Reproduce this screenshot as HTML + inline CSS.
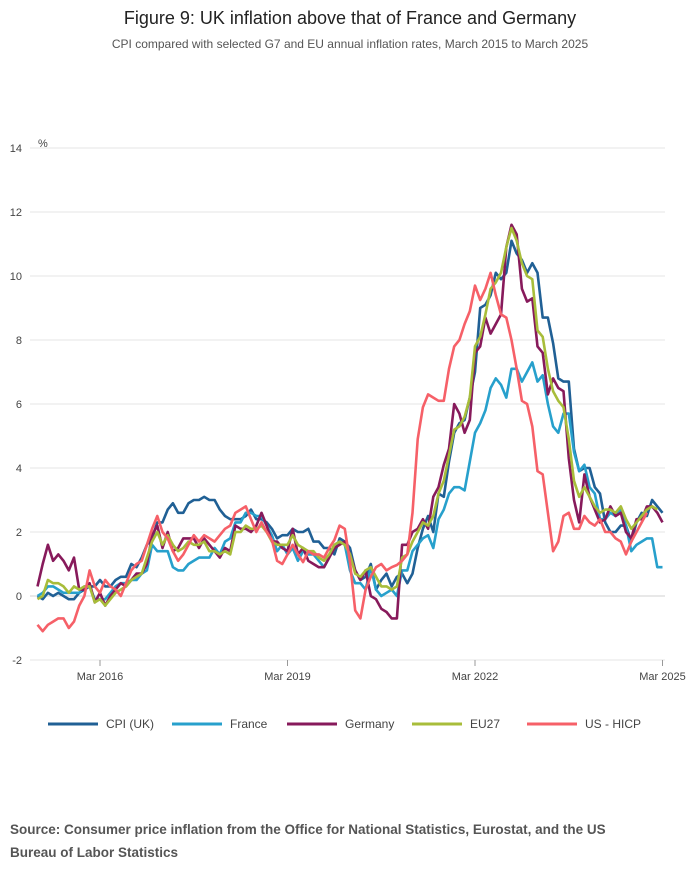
<!DOCTYPE html>
<html><head><meta charset="utf-8">
<style>
body{margin:0;background:#fff;font-family:"Liberation Sans",sans-serif;}
#wrap{position:relative;width:700px;height:882px;overflow:hidden;}
</style></head>
<body>
<div id="wrap">
<svg id="chart" width="700" height="882" xmlns="http://www.w3.org/2000/svg">
<text x="350" y="24" text-anchor="middle" font-size="18" fill="#222">Figure 9: UK inflation above that of France and Germany</text>
<text x="350" y="48" text-anchor="middle" font-size="12" fill="#555">CPI compared with selected G7 and EU annual inflation rates, March 2015 to March 2025</text>
<text x="38" y="147" font-size="11" fill="#444">%</text>
<g id="grid"></g>
<g id="series"></g>
<g id="legend"></g>
<text x="10" y="834" font-size="13.5" font-weight="bold" fill="#555">Source: Consumer price inflation from the Office for National Statistics, Eurostat, and the US</text>
<text x="10" y="857" font-size="13.5" font-weight="bold" fill="#555">Bureau of Labor Statistics</text>
</svg>
</div>
<script>
const yTicks=[14,12,10,8,6,4,2,0,-2];
const xTickLabels=["Mar 2016","Mar 2019","Mar 2022","Mar 2025"];
const xTickMonths=[12,48,84,120];
const seriesNames=["CPI (UK)","France","Germany","EU27","US - HICP"];
const ukCPI=[0.0,-0.1,0.1,0.0,0.1,0.0,-0.1,-0.1,0.1,0.2,
0.3,0.3,0.5,0.3,0.3,0.5,0.6,0.6,1.0,0.9,1.2,1.6,
1.8,2.3,2.3,2.7,2.9,2.6,2.6,2.9,3.0,3.0,3.1,3.0,
3.0,2.7,2.5,2.4,2.4,2.4,2.5,2.7,2.4,2.4,2.3,2.1,
1.8,1.9,1.9,2.1,2.0,2.0,2.1,1.7,1.7,1.5,1.5,1.3,
1.8,1.7,1.5,0.8,0.5,0.6,1.0,0.2,0.5,0.7,0.3,0.6,
0.7,0.4,0.7,1.5,2.1,2.5,2.0,3.2,3.1,4.2,5.1,5.4,
5.5,6.2,7.0,9.0,9.1,9.4,10.1,9.9,10.1,11.1,10.7,10.5,
10.1,10.4,10.1,8.7,8.7,7.9,6.8,6.7,6.7,4.6,3.9,4.0,
4.0,3.4,3.2,2.3,2.0,2.0,2.2,2.2,1.7,2.3,2.6,2.5,
3.0,2.8,2.6];
const france=[0.0,0.1,0.3,0.3,0.2,0.1,0.1,0.1,0.1,0.3,
0.3,-0.1,-0.1,-0.1,0.1,0.3,0.4,0.4,0.5,0.5,0.7,0.8,
1.6,1.4,1.4,1.4,0.9,0.8,0.8,1.0,1.1,1.2,1.2,1.2,
1.5,1.3,1.7,1.8,2.3,2.3,2.6,2.6,2.5,2.5,2.2,1.9,
1.4,1.6,1.3,1.5,1.1,1.4,1.3,1.3,1.1,0.9,1.2,1.6,
1.7,1.6,0.8,0.4,0.4,0.2,0.9,0.2,0.0,0.1,0.2,0.0,
0.8,0.8,1.4,1.6,1.8,1.9,1.5,2.4,2.7,3.2,3.4,3.4,
3.3,4.2,5.1,5.4,5.8,6.5,6.8,6.6,6.2,7.1,7.1,6.7,
7.0,7.3,6.7,6.9,6.0,5.3,5.1,5.7,5.7,4.5,3.9,4.1,
3.4,3.2,2.4,2.4,2.6,2.5,2.7,2.2,1.4,1.6,1.7,1.8,
1.8,0.9,0.9];
const germany=[0.3,1.0,1.6,1.1,1.3,1.1,0.8,1.2,0.2,0.2,
0.4,-0.2,0.1,-0.3,0.0,0.2,0.4,0.3,0.5,0.7,0.7,1.0,
1.9,2.2,1.5,2.0,1.4,1.5,1.8,1.8,1.8,1.5,1.8,1.6,
1.4,1.2,1.5,1.4,2.2,2.1,2.1,2.0,2.2,2.6,2.2,1.7,
1.7,1.5,1.4,2.1,1.3,1.5,1.1,1.0,0.9,0.9,1.2,1.5,
1.6,1.7,1.3,0.8,0.5,0.8,0.0,-0.1,-0.4,-0.5,-0.7,-0.7,
1.6,1.6,2.0,2.1,2.4,2.1,3.1,3.4,4.1,4.6,6.0,5.7,
5.1,5.5,7.6,7.8,8.7,8.2,8.5,8.8,10.9,11.6,11.3,9.6,
9.2,9.3,7.8,7.6,6.3,6.8,6.5,6.4,4.3,3.0,2.3,3.8,
3.1,2.7,2.3,2.4,2.8,2.5,2.6,2.0,1.8,2.4,2.4,2.8,
2.8,2.6,2.3];
const eu27=[-0.1,0.0,0.5,0.4,0.4,0.3,0.1,0.3,0.2,0.3,
0.3,-0.2,-0.1,-0.3,-0.1,0.1,0.2,0.3,0.5,0.6,0.7,1.2,
1.7,2.0,1.6,1.9,1.6,1.4,1.5,1.7,1.6,1.6,1.7,1.4,
1.4,1.3,1.4,1.3,2.0,2.0,2.2,2.1,2.1,2.2,2.0,1.7,
1.6,1.6,1.6,1.9,1.6,1.5,1.4,1.4,1.2,1.1,1.3,1.6,
1.7,1.6,1.3,0.7,0.6,0.8,0.9,0.6,0.3,0.3,0.2,0.3,
1.2,1.3,1.7,2.0,2.3,2.2,2.5,3.2,3.6,4.4,5.2,5.3,
5.6,6.2,7.8,8.1,8.8,9.6,9.8,10.1,10.9,11.5,11.1,10.4,
10.0,9.9,8.3,8.1,7.1,6.4,6.1,5.9,4.9,3.6,3.1,3.4,
3.1,2.8,2.6,2.7,2.7,2.6,2.8,2.4,2.1,2.3,2.5,2.7,
2.8,2.7];
const usHICP=[-0.9,-1.1,-0.9,-0.8,-0.7,-0.7,-1.0,-0.8,-0.3,0.0,
0.8,0.3,0.1,0.5,0.3,0.2,0.0,0.4,0.8,1.0,1.1,1.6,
2.1,2.5,2.0,1.8,1.4,1.1,1.3,1.6,1.9,1.7,1.9,1.8,
1.7,1.9,2.1,2.2,2.6,2.7,2.8,2.4,2.0,2.3,2.0,1.75,
1.1,1.0,1.3,1.6,1.3,1.06,1.4,1.3,1.3,1.2,1.5,1.75,
2.2,2.1,1.06,-0.45,-0.7,0.2,0.6,0.9,1.0,0.8,0.9,0.97,
1.1,1.3,2.6,4.9,5.9,6.3,6.2,6.1,6.1,7.1,7.8,8.0,
8.5,8.9,9.7,9.25,9.6,10.1,9.4,8.8,8.7,8.0,7.1,6.1,
6.0,5.3,3.9,3.8,2.6,1.4,1.7,2.5,2.6,2.1,2.1,2.5,
2.3,2.2,2.4,2.0,2.0,1.8,1.7,1.3,1.7,2.0,2.3,2.6];
const seriesData=[ukCPI,france,germany,eu27,usHICP];
const colors=["#206095","#27a0cc","#871a5b","#a8bd3a","#f66068"];
const seriesKeys=["series-cpi-uk","series-france","series-germany","series-eu27","series-us-hicp"];

const NS="http://www.w3.org/2000/svg";
const X0=37.5,X1=662.5,NM=120;
function xScale(m){return X0+(X1-X0)*m/NM;}
function yScale(v){return 596-32*v;}
const grid=document.getElementById('grid');
yTicks.forEach(t=>{
  const l=document.createElementNS(NS,'line');
  l.setAttribute('x1',30);l.setAttribute('x2',665);
  l.setAttribute('y1',yScale(t));l.setAttribute('y2',yScale(t));
  l.setAttribute('stroke',t===0?'#d0d0d0':'#e6e6e6');l.setAttribute('stroke-width',1);
  
  
  grid.appendChild(l);
  const tx=document.createElementNS(NS,'text');
  tx.setAttribute('x',22);tx.setAttribute('y',yScale(t)+4);
  tx.setAttribute('text-anchor','end');tx.setAttribute('font-size',11);tx.setAttribute('fill','#444');
  tx.textContent=t;
  
  
  grid.appendChild(tx);
});
xTickLabels.forEach((lab,i)=>{
  const x=xScale(xTickMonths[i]);
  const l=document.createElementNS(NS,'line');
  l.setAttribute('x1',x);l.setAttribute('x2',x);l.setAttribute('y1',660);l.setAttribute('y2',666);
  l.setAttribute('stroke','#999');
  
  
  grid.appendChild(l);
  const tx=document.createElementNS(NS,'text');
  tx.setAttribute('x',x);tx.setAttribute('y',680);tx.setAttribute('text-anchor','middle');
  tx.setAttribute('font-size',11);tx.setAttribute('fill','#444');
  tx.textContent=lab;
  
  
  grid.appendChild(tx);
});
const sg=document.getElementById('series');
seriesData.forEach((arr,i)=>{
  const d=arr.map((v,m)=>(m?'L':'M')+xScale(m).toFixed(1)+','+yScale(v).toFixed(1)).join(' ');
  const p=document.createElementNS(NS,'path');
  p.setAttribute('d',d);p.setAttribute('fill','none');p.setAttribute('stroke',colors[i]);
  p.setAttribute('stroke-width',2.6);p.setAttribute('stroke-linejoin','round');
  
  
  sg.appendChild(p);
});
const lg=document.getElementById('legend');
const lx=[48,172,287,412,527];
seriesNames.forEach((n,i)=>{
  const l=document.createElementNS(NS,'line');
  l.setAttribute('x1',lx[i]);l.setAttribute('x2',lx[i]+50);l.setAttribute('y1',724);l.setAttribute('y2',724);
  l.setAttribute('stroke',colors[i]);l.setAttribute('stroke-width',3);
  
  
  lg.appendChild(l);
  const t=document.createElementNS(NS,'text');
  t.setAttribute('x',lx[i]+58);t.setAttribute('y',728);t.setAttribute('font-size',12);t.setAttribute('fill','#444');
  t.textContent=n;
  
  
  lg.appendChild(t);
});
</script>
</body></html>
